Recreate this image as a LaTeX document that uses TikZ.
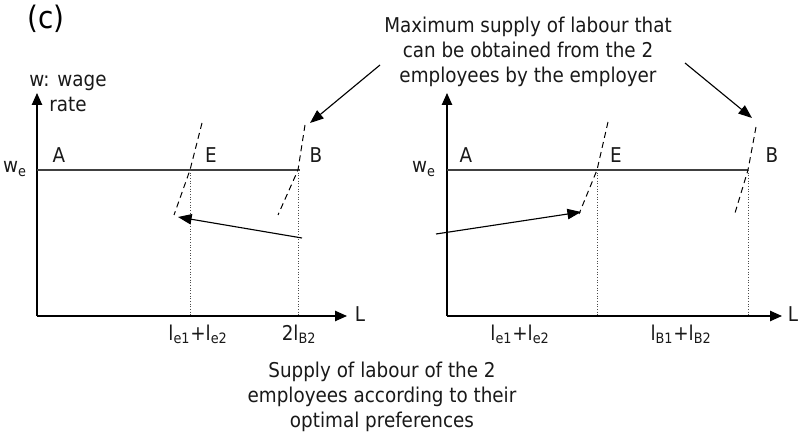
\documentclass[tikz,border=0pt]{standalone}
\usepackage{fontspec}
\setmainfont{DejaVu Sans}[FakeStretch=0.9]
\usetikzlibrary{arrows.meta}
\tikzset{
  every picture/.style={line width=0.8pt},
  lbl/.style={font=\fontsize{14.5}{17.8}\selectfont, inner sep=0pt, anchor=base, text=black!90},
  note/.style={font=\fontsize{14.5}{17.8}\selectfont, align=center, inner sep=0pt, text=black!90},
  axis/.style={-{Triangle[length=3mm, width=2.6mm]}, line width=0.9pt},
  wage/.style={draw=black!75, line width=1.2pt},
  supply/.style={dash pattern=on 4.3pt off 3pt, line width=0.7pt},
  guide/.style={dash pattern=on 0.7pt off 1.2pt, line width=0.6pt, draw=black!70},
  arrow/.style={-{Triangle[length=3.4mm, width=2.6mm]}, line width=0.8pt},
}
\begin{document}
\begin{tikzpicture}[x=0.25mm, y=-0.25mm]
  \useasboundingbox (0,0) rectangle (800,434);
  \node[font=\fontsize{22}{26}\selectfont] (tag) at (46,19) {(c)};
  % left panel
  \coordinate (oL) at (37,316);
  \coordinate (yL) at (37,93);
  \coordinate (xL) at (347,316);
  \coordinate (wL) at (37,170);
  \coordinate (wLend) at (300,170);
  \draw[axis] (oL) -- (yL);
  \draw[axis] (oL) -- (xL);
  \draw[wage] (wL) -- (wLend);
  \node[note] (wlab) at (68,93) {w: wage\\rate};
  \node[lbl] (weL) at (15,173) {w\textsubscript{e}};
  \node[lbl] (AL) at (59,163) {A};
  \node[lbl] (EL) at (211,163) {E};
  \node[lbl] (BL) at (316,163) {B};
  \node[lbl] (LL) at (360,322) {L};
  \coordinate (eLt) at (202,123);
  \coordinate (eLm) at (190,170);
  \coordinate (eLb) at (174,215);
  \coordinate (bLt) at (305,125);
  \coordinate (bLm) at (298,170);
  \coordinate (bLb) at (278,215);
  \draw[supply] (eLt) -- (eLm) -- (eLb);
  \draw[supply] (bLt) -- (bLm) -- (bLb);
  \draw[guide] (eLm) -- (eLm |- oL);
  \draw[guide] (bLm) -- (bLm |- oL);
  \node[lbl] (qeL) at (198,340) {l\textsubscript{e1}+l\textsubscript{e2}};
  \node[lbl] (qbL) at (299,340) {2l\textsubscript{B2}};
  \coordinate (mvL) at (302,238);
  \coordinate (mvLend) at (178,217);
  \draw[arrow] (mvL) -- (mvLend);
  % right panel
  \coordinate (oR) at (447,316);
  \coordinate (yR) at (447,93);
  \coordinate (xR) at (782,316);
  \coordinate (wR) at (447,170);
  \coordinate (wRend) at (748,170);
  \draw[axis] (oR) -- (yR);
  \draw[axis] (oR) -- (xR);
  \draw[wage] (wR) -- (wRend);
  \node[lbl] (weR) at (424,173) {w\textsubscript{e}};
  \node[lbl] (AR) at (466,163) {A};
  \node[lbl] (ER) at (616,163) {E};
  \node[lbl] (BR) at (772,163) {B};
  \node[lbl] (LR) at (793,322) {L};
  \coordinate (eRt) at (608,122);
  \coordinate (eRm) at (597,170);
  \coordinate (eRb) at (579,214);
  \coordinate (bRt) at (756,127);
  \coordinate (bRm) at (748,170);
  \coordinate (bRb) at (735,213);
  \draw[supply] (eRt) -- (eRm) -- (eRb);
  \draw[supply] (bRt) -- (bRm) -- (bRb);
  \draw[guide] (eRm) -- (eRm |- oR);
  \draw[guide] (bRm) -- (bRm |- oR);
  \node[lbl] (qeR) at (520,340) {l\textsubscript{e1}+l\textsubscript{e2}};
  \node[lbl] (qbR) at (681,340) {l\textsubscript{B1}+l\textsubscript{B2}};
  \coordinate (mvR) at (436,234);
  \coordinate (mvRend) at (581,212);
  \draw[arrow] (mvR) -- (mvRend);
  % notes
  \node[note] (maxnote) at (528,52) {Maximum supply of labour that\\can be obtained from the 2\\employees by the employer};
  \node[note] (optnote) at (382,397) {Supply of labour of the 2\\employees according to their\\optimal preferences};
  \coordinate (mxL) at (380,65);
  \coordinate (mxLend) at (310,123);
  \coordinate (mxR) at (685,63);
  \coordinate (mxRend) at (752,118);
  \draw[arrow] (mxL) -- (mxLend);
  \draw[arrow] (mxR) -- (mxRend);
\end{tikzpicture}
\end{document}
